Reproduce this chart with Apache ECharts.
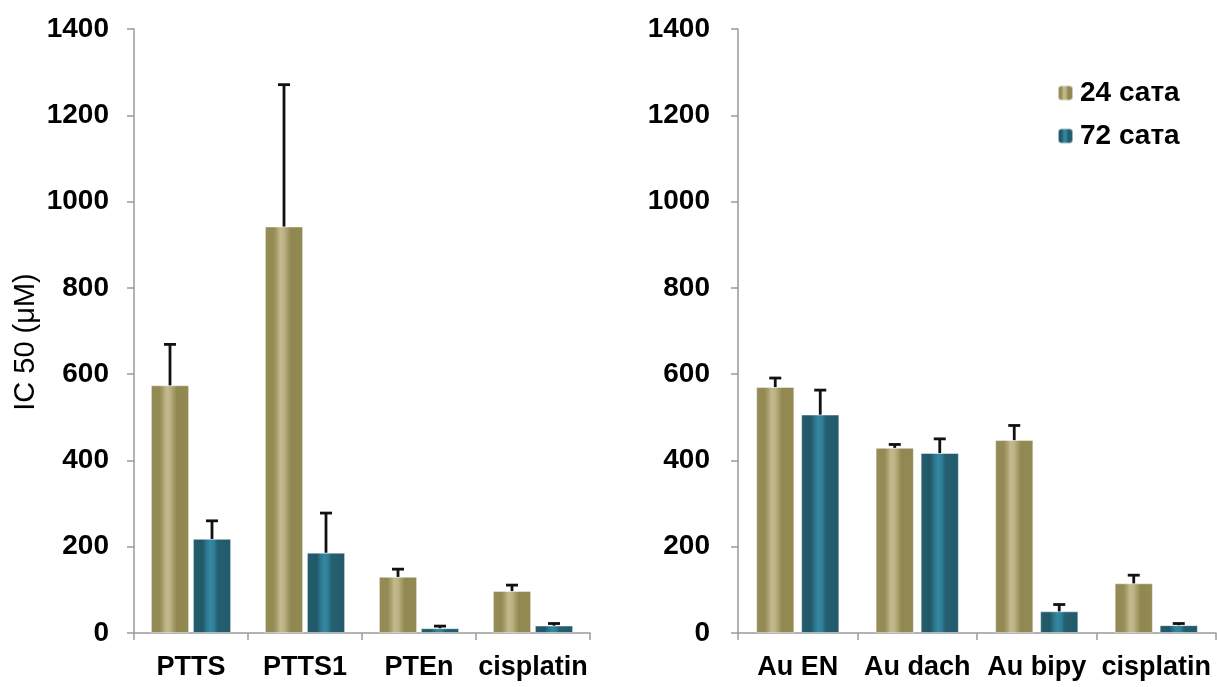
<!DOCTYPE html>
<html>
<head>
<meta charset="utf-8">
<script src="https://cdn.jsdelivr.net/npm/echarts@6/dist/echarts.min.js"></script>
<style>
  html, body { margin: 0; padding: 0; background: #fff; }
  #chart { width: 1217px; height: 687px; }
</style>
</head>
<body>
<div id="chart"></div>
<script>
// IC50 values (µM) after 24 h and 72 h, with upper error bars
const seriesNames = ['24 сата', '72 сата'];

const leftCategories = ['PTTS', 'PTTS1', 'PTEn', 'cisplatin'];
const left24 = [574, 942, 130, 97];
const left24Err = [95, 329, 18, 14];
const left72 = [218, 186, 11, 17];
const left72Err = [42, 92, 5, 5];

const rightCategories = ['Au EN', 'Au dach', 'Au bipy', 'cisplatin'];
const right24 = [570, 429, 447, 115];
const right24Err = [21, 8, 34, 19];
const right72 = [506, 417, 50, 18];
const right72Err = [57, 33, 16, 4];

const yMin = 0, yMax = 1400, yStep = 200;
const yAxisName = 'IC 50 (μM)';

// layout / style
const FONT = '"Liberation Sans", Arial, Helvetica, sans-serif';
const BAR_W = 38;
const GAP_L = 4, GAP_R = 7;   // pixel gap between paired bars

function olive() {
  return new echarts.graphic.LinearGradient(0, 0, 1, 0, [
    { offset: 0, color: '#958B55' },
    { offset: 0.22, color: '#948A55' },
    { offset: 0.3, color: '#A59B68' },
    { offset: 0.4, color: '#C2B98E' },
    { offset: 0.5, color: '#BDB387' },
    { offset: 0.6, color: '#A39A66' },
    { offset: 0.68, color: '#918751' },
    { offset: 1, color: '#938953' }
  ]);
}
function teal() {
  return new echarts.graphic.LinearGradient(0, 0, 1, 0, [
    { offset: 0, color: '#245D6D' },
    { offset: 0.25, color: '#215868' },
    { offset: 0.35, color: '#2C7489' },
    { offset: 0.45, color: '#3388A0' },
    { offset: 0.55, color: '#2F8098' },
    { offset: 0.65, color: '#245F70' },
    { offset: 1, color: '#225A6A' }
  ]);
}

function barSeries(name, data, gi, color, gapPx) {
  return {
    name: name,
    type: 'bar',
    xAxisIndex: gi, yAxisIndex: gi,
    data: data,
    barWidth: BAR_W,
    barGap: (gapPx / BAR_W * 100) + '%',
    itemStyle: { color: color, borderColor: 'rgba(255,255,255,0.55)', borderWidth: 0.8 },
    emphasis: { disabled: true },
    z: 2
  };
}

// upper error bar: vertical stem plus a short cap, offset to the bar's centre
function errSeries(values, errs, gi, side, gapPx) {
  const data = values.map((v, i) => [i, v, errs[i]]);
  const shift = side * (BAR_W + gapPx) / 2;
  return {
    type: 'custom',
    xAxisIndex: gi, yAxisIndex: gi,
    data: data,
    z: 5,
    silent: true,
    renderItem: function (params, api) {
      const i = api.value(0), v = api.value(1), e = api.value(2);
      const base = api.coord([i, v]);
      const top = api.coord([i, v + e]);
      const x = base[0] + shift;
      const capHalf = 6;
      const style = { stroke: '#111', lineWidth: 2.8 };
      return {
        type: 'group',
        children: [
          { type: 'line', shape: { x1: x, y1: base[1], x2: x, y2: top[1] }, style: style },
          { type: 'line', shape: { x1: x - capHalf, y1: top[1], x2: x + capHalf, y2: top[1] }, style: style }
        ]
      };
    }
  };
}

function xAxis(cats, gi) {
  return {
    type: 'category', gridIndex: gi, data: cats,
    axisLine: { lineStyle: { color: '#9a9a9a', width: 1.5 } },
    axisTick: { show: true, length: 7, lineStyle: { color: '#9a9a9a', width: 1.5 } },
    axisLabel: { color: '#000', fontFamily: FONT, fontWeight: 'bold', fontSize: 27, margin: 21, interval: 0 }
  };
}
function yAxis(gi, withName, margin) {
  return {
    type: 'value', gridIndex: gi, min: yMin, max: yMax, interval: yStep,
    name: withName ? yAxisName : '',
    nameLocation: 'middle', nameGap: 94,
    nameTextStyle: { color: '#000', fontFamily: FONT, fontSize: 29, padding: [0, 22, 0, 0] },
    splitLine: { show: false },
    axisLine: { show: true, lineStyle: { color: '#9a9a9a', width: 1.5 } },
    axisTick: { show: true, length: 7, lineStyle: { color: '#9a9a9a', width: 1.5 } },
    axisLabel: {
      color: '#000', fontFamily: FONT, fontWeight: 'bold', fontSize: 28, margin: margin,
      formatter: v => String(v)
    }
  };
}

const chart = echarts.init(document.getElementById('chart'), null, { renderer: 'canvas' });
chart.setOption({
  animation: false,
  backgroundColor: '#fff',
  legend: {
    data: seriesNames,
    orient: 'vertical',
    left: 1052, top: 74,
    itemWidth: 15, itemHeight: 15, itemGap: 15,
    textStyle: { color: '#000', fontFamily: FONT, fontWeight: 'bold', fontSize: 28, padding: [0, 0, 0, 2] }
  },
  grid: [
    { left: 134, right: 627, top: 29, bottom: 54 },
    { left: 738, right: 1, top: 29, bottom: 54 }
  ],
  xAxis: [xAxis(leftCategories, 0), xAxis(rightCategories, 1)],
  yAxis: [yAxis(0, true, 25), yAxis(1, false, 28)],
  series: [
    barSeries(seriesNames[0], left24, 0, olive(), GAP_L),
    barSeries(seriesNames[1], left72, 0, teal(), GAP_L),
    barSeries(seriesNames[0], right24, 1, olive(), GAP_R),
    barSeries(seriesNames[1], right72, 1, teal(), GAP_R),
    errSeries(left24, left24Err, 0, -1, GAP_L),
    errSeries(left72, left72Err, 0, 1, GAP_L),
    errSeries(right24, right24Err, 1, -1, GAP_R),
    errSeries(right72, right72Err, 1, 1, GAP_R)
  ]
});
</script>
</body>
</html>
